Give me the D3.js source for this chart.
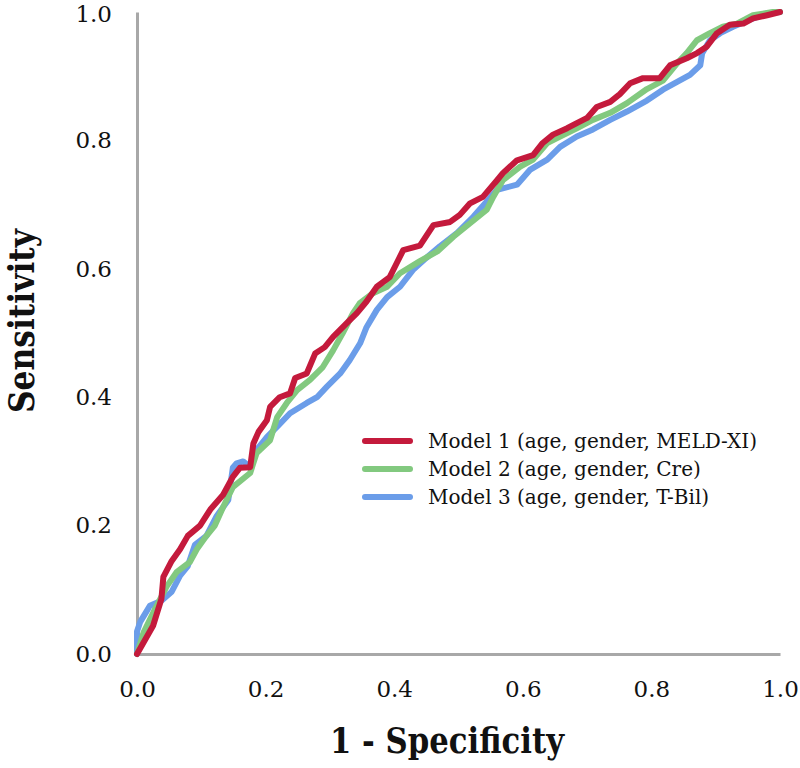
<!DOCTYPE html>
<html>
<head>
<meta charset="utf-8">
<script src="https://cdn.jsdelivr.net/npm/d3@7"></script>
<style>
  body { margin: 0; background: #fff; }
</style>
</head>
<body>
<div id="chart-area"></div>
<script>
// ROC curves, [1 - specificity, sensitivity]
var model1 = [[0,0],[0.025,0.044],[0.038,0.086],[0.041,0.12],[0.054,0.145],[0.067,0.163],[0.079,0.184],[0.098,0.2],[0.114,0.225],[0.134,0.248],[0.149,0.276],[0.16,0.29],[0.176,0.291],[0.181,0.328],[0.189,0.346],[0.202,0.364],[0.207,0.385],[0.222,0.4],[0.238,0.406],[0.246,0.43],[0.264,0.437],[0.277,0.468],[0.292,0.478],[0.305,0.494],[0.327,0.516],[0.342,0.531],[0.357,0.549],[0.373,0.572],[0.393,0.587],[0.404,0.609],[0.414,0.629],[0.44,0.636],[0.461,0.668],[0.487,0.673],[0.502,0.684],[0.518,0.702],[0.538,0.712],[0.56,0.738],[0.569,0.749],[0.591,0.769],[0.616,0.777],[0.631,0.796],[0.647,0.809],[0.669,0.819],[0.684,0.827],[0.7,0.835],[0.715,0.852],[0.736,0.86],[0.751,0.872],[0.767,0.889],[0.787,0.897],[0.813,0.897],[0.829,0.917],[0.855,0.928],[0.871,0.936],[0.886,0.946],[0.902,0.967],[0.922,0.98],[0.943,0.982],[0.958,0.99],[0.98,0.995],[1,1]];
var model2 = [[0,0],[0.01,0.033],[0.028,0.07],[0.046,0.105],[0.062,0.128],[0.082,0.143],[0.093,0.163],[0.108,0.184],[0.121,0.2],[0.134,0.229],[0.149,0.26],[0.176,0.282],[0.186,0.313],[0.207,0.333],[0.218,0.369],[0.233,0.391],[0.249,0.411],[0.269,0.427],[0.289,0.447],[0.305,0.473],[0.32,0.5],[0.336,0.531],[0.347,0.547],[0.367,0.562],[0.389,0.572],[0.409,0.593],[0.44,0.612],[0.467,0.627],[0.492,0.65],[0.518,0.671],[0.544,0.692],[0.554,0.712],[0.569,0.738],[0.596,0.759],[0.616,0.77],[0.638,0.796],[0.658,0.806],[0.684,0.819],[0.709,0.832],[0.736,0.843],[0.762,0.858],[0.793,0.88],[0.818,0.893],[0.84,0.92],[0.855,0.936],[0.871,0.956],[0.891,0.967],[0.911,0.977],[0.933,0.982],[0.958,0.995],[0.989,1],[1,1]];
var model3 = [[0,0],[0,0.035],[0.005,0.05],[0.02,0.075],[0.038,0.083],[0.054,0.097],[0.067,0.122],[0.079,0.137],[0.09,0.17],[0.108,0.184],[0.124,0.215],[0.142,0.24],[0.149,0.29],[0.155,0.297],[0.165,0.3],[0.176,0.291],[0.186,0.318],[0.202,0.338],[0.218,0.354],[0.238,0.375],[0.264,0.391],[0.28,0.4],[0.295,0.416],[0.316,0.437],[0.331,0.458],[0.347,0.484],[0.357,0.509],[0.373,0.536],[0.389,0.556],[0.409,0.572],[0.429,0.598],[0.45,0.617],[0.471,0.635],[0.498,0.656],[0.523,0.681],[0.56,0.723],[0.591,0.731],[0.611,0.754],[0.638,0.77],[0.658,0.79],[0.684,0.806],[0.709,0.817],[0.736,0.832],[0.762,0.845],[0.793,0.862],[0.818,0.879],[0.84,0.891],[0.86,0.902],[0.876,0.917],[0.879,0.936],[0.891,0.956],[0.907,0.967],[0.927,0.977],[0.953,0.988],[0.98,0.998],[1,1]];

var modelNames = ["Model 1 (age, gender, MELD-XI)", "Model 2 (age, gender, Cre)", "Model 3 (age, gender, T-Bil)"];
var ticks = [0, 0.2, 0.4, 0.6, 0.8, 1.0];

var colors = ["#c41a3c", "#82c97f", "#6b9de9"];
var serif = "'DejaVu Serif', 'Liberation Serif', serif";

var margin = {top: 12, right: 20, bottom: 114, left: 137};
var width = 643;
var height = 642;

var svg = d3.select("#chart-area")
  .append("svg")
  .attr("width", 800)
  .attr("height", 768);

var g = svg.append("g")
  .attr("transform", "translate(" + margin.left + ", " + margin.top + ")");

var x = d3.scaleLinear().domain([0, 1]).range([0, width]);
var y = d3.scaleLinear().domain([0, 1]).range([height, 0]);

var xAxisCall = d3.axisBottom(x)
  .tickValues(ticks)
  .tickSize(0)
  .tickSizeOuter(0)
  .tickPadding(27)
  .tickFormat(d3.format(".1f"));

var yAxisCall = d3.axisLeft(y)
  .tickValues(ticks)
  .tickSize(0)
  .tickSizeOuter(0)
  .tickPadding(25)
  .tickFormat(d3.format(".1f"));

var xAxisGroup = g.append("g")
  .attr("transform", "translate(0, " + height + ")")
  .call(xAxisCall);

var yAxisGroup = g.append("g")
  .call(yAxisCall);

[xAxisGroup, yAxisGroup].forEach((ax) => {
  ax.attr("font-family", serif).attr("font-size", 23);
  ax.select(".domain").attr("stroke", "#a8a8a8").attr("stroke-width", 3);
  ax.selectAll("text").attr("fill", "#111");
});

// keep the top label inside the picture
yAxisGroup.selectAll(".tick text").filter((d) => d === 1).attr("dy", "0.42em");

var line = d3.line()
  .x((d) => x(d[0]))
  .y((d) => y(d[1]));

var series = [model1, model2, model3];

// draw blue first, red on top
[2, 1, 0].forEach((i) => {
  g.append("path")
    .datum(series[i])
    .attr("fill", "none")
    .attr("stroke", colors[i])
    .attr("stroke-width", 6)
    .attr("stroke-linejoin", "round")
    .attr("stroke-linecap", "round")
    .attr("d", line);
});

// axis titles
svg.append("text")
  .attr("x", 447)
  .attr("y", 740)
  .attr("text-anchor", "middle")
  .attr("dominant-baseline", "central")
  .attr("font-family", serif)
  .attr("font-size", 35)
  .attr("font-weight", "bold")
  .attr("textLength", 234)
  .attr("lengthAdjust", "spacingAndGlyphs")
  .attr("fill", "#111")
  .text("1 - Specificity");

svg.append("text")
  .attr("transform", "translate(21, 321) rotate(-90)")
  .attr("text-anchor", "middle")
  .attr("dominant-baseline", "central")
  .attr("font-family", serif)
  .attr("font-size", 35)
  .attr("font-weight", "bold")
  .attr("textLength", 184)
  .attr("lengthAdjust", "spacingAndGlyphs")
  .attr("fill", "#111")
  .text("Sensitivity");

// legend
var legend = svg.append("g")
  .attr("transform", "translate(365, 441)");

modelNames.forEach((name, i) => {
  var row = legend.append("g").attr("transform", "translate(0, " + i * 28 + ")");
  row.append("line")
    .attr("x1", 0).attr("x2", 45)
    .attr("y1", 0).attr("y2", 0)
    .attr("stroke", colors[i])
    .attr("stroke-width", 6)
    .attr("stroke-linecap", "round");
  row.append("text")
    .attr("x", 63)
    .attr("y", 0)
    .attr("dominant-baseline", "central")
    .attr("font-family", serif)
    .attr("font-size", 20)
    .attr("fill", "#111")
    .text(name);
});
</script>
</body>
</html>
